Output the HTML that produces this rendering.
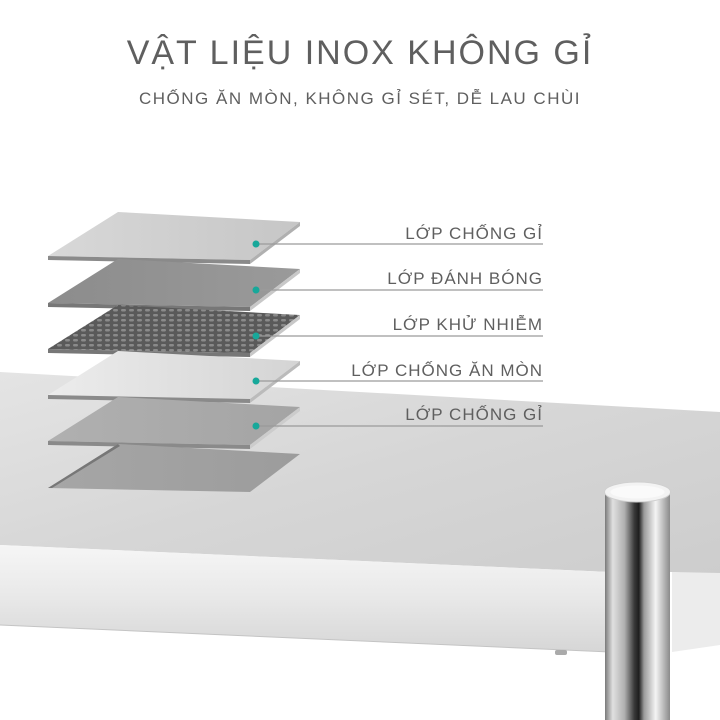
<!DOCTYPE html>
<html><head><meta charset="utf-8"><style>
html,body{margin:0;padding:0;background:#fff;width:720px;height:720px;overflow:hidden}
svg{display:block}
text{font-family:"Liberation Sans","DejaVu Sans",sans-serif;fill:#5f5f5f}
</style></head><body>
<svg width="720" height="720" viewBox="0 0 720 720" xmlns="http://www.w3.org/2000/svg">
<defs>
<linearGradient id="top" x1="0" y1="0" x2="1" y2="1"><stop offset="0" stop-color="#e4e4e4"/><stop offset="0.5" stop-color="#d6d6d6"/><stop offset="1" stop-color="#cdcdcd"/></linearGradient>
<linearGradient id="front" x1="0" y1="0" x2="0" y2="1"><stop offset="0" stop-color="#f6f6f6"/><stop offset="0.5" stop-color="#e8e8e8"/><stop offset="1" stop-color="#d6d6d6"/></linearGradient>
<linearGradient id="leg" x1="0" y1="0" x2="1" y2="0"><stop offset="0" stop-color="#7a7a7a"/><stop offset="0.12" stop-color="#e0e0e0"/><stop offset="0.3" stop-color="#b0b0b0"/><stop offset="0.45" stop-color="#3a3a3a"/><stop offset="0.52" stop-color="#1e1e1e"/><stop offset="0.6" stop-color="#9a9a9a"/><stop offset="0.78" stop-color="#f4f4f4"/><stop offset="1" stop-color="#8a8a8a"/></linearGradient>
<linearGradient id="l1" x1="0" y1="0" x2="1" y2="0"><stop offset="0" stop-color="#d8d8d8"/><stop offset="1" stop-color="#c6c6c6"/></linearGradient>
<linearGradient id="l2" x1="0" y1="0" x2="1" y2="0"><stop offset="0" stop-color="#8c8c8c"/><stop offset="1" stop-color="#9a9a9a"/></linearGradient>
<pattern id="holes" width="8" height="5" patternUnits="userSpaceOnUse"><rect width="8" height="5" fill="#5a5a5a"/><rect x="1" y="1" width="5" height="2.5" rx="1.2" fill="#8a8a8a"/></pattern>
<linearGradient id="l4" x1="0" y1="0" x2="1" y2="0"><stop offset="0" stop-color="#ececec"/><stop offset="1" stop-color="#d4d4d4"/></linearGradient>
<linearGradient id="l5" x1="0" y1="0" x2="1" y2="0"><stop offset="0" stop-color="#b0b0b0"/><stop offset="1" stop-color="#a4a4a4"/></linearGradient>
<linearGradient id="l6" x1="0" y1="0" x2="1" y2="0"><stop offset="0" stop-color="#a6a6a6"/><stop offset="1" stop-color="#9c9c9c"/></linearGradient>
</defs>

<polygon points="0,372 720,412 720,575 672,572 610,572 0,545" fill="url(#top)"/>
<polygon points="0,545 610,572 610,652 0,625" fill="url(#front)"/>
<polygon points="672,572 720,573 720,645 672,652" fill="#ececec"/>
<line x1="0" y1="625" x2="610" y2="652" stroke="#c4c4c4"/>
<rect x="555" y="650" width="12" height="5" rx="2" fill="#aaa"/>
<rect x="605" y="493" width="65" height="227" fill="url(#leg)"/>
<ellipse cx="637.5" cy="492" rx="33" ry="10" fill="#f3f3f3" stroke="#cfcfcf"/>
<ellipse cx="637.5" cy="492" rx="27" ry="6.5" fill="#fafafa"/>

<g>
<polygon points="48,256 118,212 300,222 250,260" fill="url(#l1)"/>
<polygon points="48,256 250,260 250,264 48,260" fill="#8a8a8a"/>
<polygon points="250,260 300,222 300,226 250,264" fill="#b0b0b0"/>
</g>
<g transform="translate(0,47)">
<polygon points="48,256 118,212 300,222 250,260" fill="url(#l2)"/>
<polygon points="48,256 250,260 250,264 48,260" fill="#777"/>
<polygon points="250,260 300,222 300,226 250,264" fill="#c8c8c8"/>
</g>
<g transform="translate(0,93)">
<polygon points="48,256 118,212 300,222 250,260" fill="url(#holes)"/>
<polygon points="48,256 250,260 250,264 48,260" fill="#777"/>
<polygon points="250,260 300,222 300,226 250,264" fill="#c8c8c8"/>
</g>
<g transform="translate(0,139)">
<polygon points="48,256 118,212 300,222 250,260" fill="url(#l4)"/>
<polygon points="48,256 250,260 250,264 48,260" fill="#8a8a8a"/>
<polygon points="250,260 300,222 300,226 250,264" fill="#bbb"/>
</g>
<g transform="translate(0,185)">
<polygon points="48,256 118,212 300,222 250,260" fill="url(#l5)"/>
<polygon points="48,256 250,260 250,264 48,260" fill="#8a8a8a"/>
<polygon points="250,260 300,222 300,226 250,264" fill="#ccc"/>
</g>
<g transform="translate(0,232)">
<polygon points="48,256 118,212 300,222 250,260" fill="url(#l6)"/>
<polygon points="48,256 118,212 120,214 52,256" fill="#777"/>
</g>

<g stroke="#9a9a9a" stroke-width="1.2">
<line x1="256" y1="244" x2="543" y2="244"/>
<line x1="256" y1="290" x2="543" y2="290"/>
<line x1="256" y1="336" x2="543" y2="336"/>
<line x1="256" y1="381" x2="543" y2="381"/>
<line x1="256" y1="426" x2="543" y2="426"/>
</g>
<g fill="#17a89a">
<circle cx="256" cy="244" r="3.5"/><circle cx="256" cy="290" r="3.5"/><circle cx="256" cy="336" r="3.5"/><circle cx="256" cy="381" r="3.5"/><circle cx="256" cy="426" r="3.5"/>
</g>
<g font-size="17" text-anchor="end" letter-spacing="1">
<text x="543" y="239">LỚP CHỐNG GỈ</text>
<text x="543" y="284">LỚP ĐÁNH BÓNG</text>
<text x="543" y="330">LỚP KHỬ NHIỄM</text>
<text x="543" y="376">LỚP CHỐNG ĂN MÒN</text>
<text x="543" y="420">LỚP CHỐNG GỈ</text>
</g>

<text x="360" y="64" font-size="34" text-anchor="middle" letter-spacing="2" fill="#555">VẬT LIỆU INOX KHÔNG GỈ</text>
<text x="360" y="104" font-size="17" text-anchor="middle" letter-spacing="1.5" fill="#555">CHỐNG ĂN MÒN, KHÔNG GỈ SÉT, DỄ LAU CHÙI</text>
</svg>
</body></html>
